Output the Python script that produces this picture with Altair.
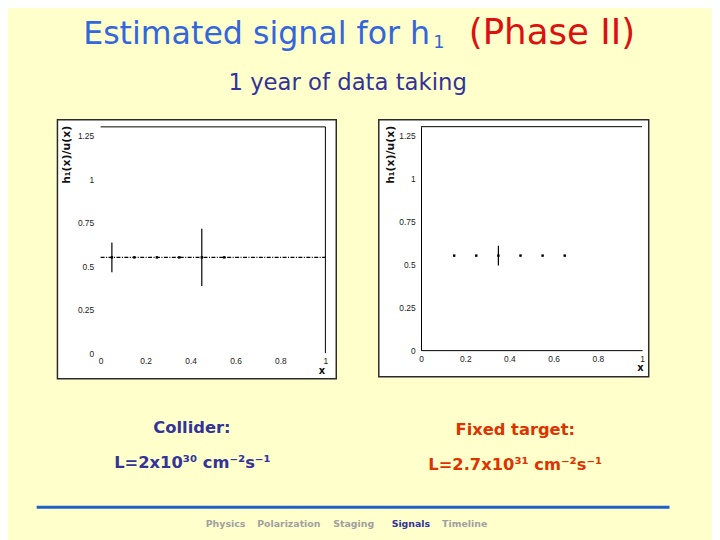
import altair as alt
import pandas as pd

# ---------------- data ----------------
x_tick_values = [0, 0.2, 0.4, 0.6, 0.8, 1]
y_tick_values = [0, 0.25, 0.5, 0.75, 1, 1.25]
x_domain = [0, 1]
y_domain = [0, 1.3]

# Collider panel (left)
collider_x = [0.05, 0.15, 0.25, 0.35, 0.45, 0.55]
collider_y = [0.55, 0.55, 0.55, 0.55, 0.55, 0.55]
collider_err = [0.085, 0.004, 0.004, 0.004, 0.165, 0.004]
collider_line_y = [0.55]

# Fixed target panel (right)
fixed_x = [0.15, 0.25, 0.35, 0.45, 0.55, 0.65]
fixed_y = [0.55, 0.55, 0.55, 0.55, 0.55, 0.55]
fixed_err = [0.004, 0.004, 0.057, 0.004, 0.004, 0.004]

# texts
title_main = "Estimated signal for h"
title_index = "1"
title_phase = "(Phase II)"
subtitle = "1 year of data taking"
collider_label = "Collider:"
collider_lumi = "L=2x10³⁰ cm⁻²s⁻¹"
fixed_label = "Fixed target:"
fixed_lumi = "L=2.7x10³¹ cm⁻²s⁻¹"
nav_items = ["Physics", "Polarization", "Staging", "Signals", "Timeline"]
y_title = "h₁(x)/u(x)"
x_title = "x"

W, H = 712, 532
BLUE = "#3366DD"
RED = "#DD1010"
NAVY = "#333399"
ORANGE = "#DD3300"
GREY = "#A0A0A0"


def txt(s, x, y, size, color, weight="normal", align="center", font="DejaVu Sans"):
    return (
        alt.Chart(pd.DataFrame({"t": [s]}))
        .mark_text(align=align, baseline="alphabetic", font=font, fontSize=size,
                   fontWeight=weight, color=color)
        .encode(x=alt.value(x), y=alt.value(y), text="t:N")
    )


def frame_box(x1, x2, y1, y2):
    return (
        alt.Chart(pd.DataFrame({"k": [0]}))
        .mark_rect(fill="white", stroke="#2a2a2a", strokeWidth=1.5)
        .encode(x=alt.value(x1), x2=alt.value(x2), y=alt.value(y1), y2=alt.value(y2))
    )


def panel(xs, ys, errs, line_y, xr, yr, show_domain, frame_rows,
          lab_pad_y, ytitle_x, ytitle_y, xtitle_x):
    pts = pd.DataFrame({
        "x": xs, "y": ys,
        "lo": [v - e for v, e in zip(ys, errs)],
        "hi": [v + e for v, e in zip(ys, errs)],
    })
    xsc = alt.Scale(domain=x_domain, range=xr, nice=False, zero=False)
    ysc = alt.Scale(domain=y_domain, range=yr, nice=False, zero=False)
    xax = alt.Axis(
        orient="bottom", offset=yr[0] - H, values=x_tick_values, format=".3~g",
        grid=False, ticks=False, domain=show_domain, domainColor="black",
        domainWidth=1, labelFont="Liberation Sans", labelFontSize=8.5,
        labelColor="#222222", labelPadding=4, labelFlush=False, labelOverlap=False,
        title=x_title, titleX=xtitle_x, titleY=18, titleAlign="center",
        titleBaseline="middle", titleFont="DejaVu Sans", titleFontSize=10,
        titleFontWeight="bold", titleColor="#111111", zindex=2,
    )
    yax = alt.Axis(
        orient="left", offset=-xr[0], values=y_tick_values, format=".3~g",
        grid=False, ticks=False, domain=show_domain, domainColor="black",
        domainWidth=1, labelFont="Liberation Sans", labelFontSize=8.5,
        labelColor="#222222", labelPadding=lab_pad_y, labelFlush=False,
        labelOverlap=False,
        title=y_title, titleX=ytitle_x, titleY=ytitle_y, titleAngle=270,
        titleAlign="center", titleBaseline="middle", titleFont="DejaVu Sans",
        titleFontSize=11, titleFontWeight="bold", titleColor="#111111", zindex=2,
    )

    def X(f):
        return alt.X(f, type="quantitative", scale=xsc, axis=xax)

    def Y(f):
        return alt.Y(f, type="quantitative", scale=ysc, axis=yax)

    layers = []
    frame_df = pd.DataFrame(frame_rows)
    layers.append(
        alt.Chart(frame_df).mark_rule(color="black", strokeWidth=1).encode(
            x=X("x0"), x2="x1", y=Y("y0"), y2="y1")
    )
    if line_y:
        ldf = pd.DataFrame({"x0": [x_domain[0]], "x1": [x_domain[1]], "y": line_y})
        layers.append(
            alt.Chart(ldf).mark_rule(color="black", strokeWidth=1.1,
                                     strokeDash=[4, 1.5, 1, 1.5]).encode(
                x=X("x0"), x2="x1", y=Y("y"))
        )
    layers.append(
        alt.Chart(pts).mark_rule(color="black", strokeWidth=1.2).encode(
            x=X("x"), y=Y("lo"), y2="hi")
    )
    layers.append(
        alt.Chart(pts).mark_square(color="black", size=6, opacity=1).encode(
            x=X("x"), y=Y("y"))
    )
    return alt.layer(*layers)


left_frame_rows = {
    "x0": [x_domain[0], x_domain[1]], "x1": [x_domain[1], x_domain[1]],
    "y0": [y_domain[1], y_domain[0]], "y1": [y_domain[1], y_domain[1]],
}
right_frame_rows = {
    "x0": [x_domain[0]], "x1": [x_domain[1]],
    "y0": [y_domain[1]], "y1": [y_domain[1]],
}

p1 = panel(collider_x, collider_y, collider_err, collider_line_y,
           xr=[93.7, 321.0], yr=[346.0, 117.2], show_domain=False,
           frame_rows=left_frame_rows, lab_pad_y=7,
           ytitle_x=-34.7, ytitle_y=145, xtitle_x=317)
p2 = panel(fixed_x, fixed_y, fixed_err, [],
           xr=[417.7, 641.3], yr=[343.0, 117.0], show_domain=True,
           frame_rows=right_frame_rows, lab_pad_y=6,
           ytitle_x=-30.7, ytitle_y=145, xtitle_x=639)

deco = [
    frame_box(50, 332, 110, 372),
    frame_box(375, 648, 110, 370),
    txt(title_main, 76, 33, 32, BLUE, align="left"),
    txt(title_index, 430, 37, 18, BLUE, align="left"),
    txt(title_phase, 466, 33, 36, RED, align="left"),
    txt(subtitle, 343.5, 80, 23, NAVY),
    txt(collider_label, 186, 427, 16.5, NAVY, weight="bold"),
    txt(collider_lumi, 186.5, 462, 16.5, NAVY, weight="bold"),
    txt(fixed_label, 513, 429, 16.5, ORANGE, weight="bold"),
    txt(fixed_lumi, 513, 464, 16.5, ORANGE, weight="bold"),
    alt.Chart(pd.DataFrame({"k": [0]})).mark_rule(color="#2060C8", strokeWidth=3).encode(
        x=alt.value(29), x2=alt.value(669), y=alt.value(502)),
]
nav_x = [200, 252, 329, 388, 439]
for name, nx in zip(nav_items, nav_x):
    col = NAVY if name == "Signals" else GREY
    deco.append(txt(name, nx, 522, 9.5, col, weight="bold", align="left"))

chart = (
    alt.layer(*deco, p1, p2)
    .resolve_scale(x="independent", y="independent")
    .properties(width=W, height=H, padding=0, autosize=alt.AutoSizeParams(type="none"))
    .configure(background="#FFFFCC")
    .configure_view(strokeWidth=0)
)

chart.save("out.html", embed_options={"renderer": "svg", "actions": False})
